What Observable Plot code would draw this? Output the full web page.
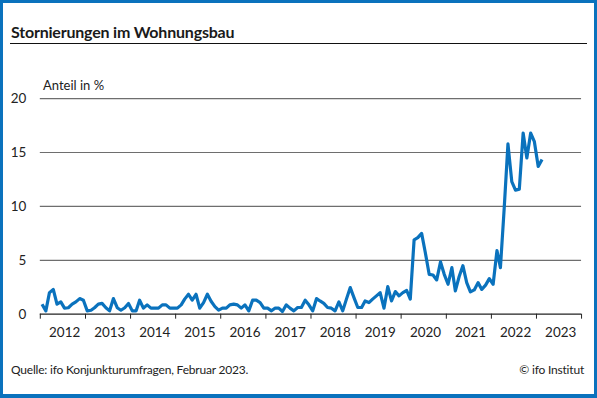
<!DOCTYPE html>
<html>
<head>
<meta charset="utf-8">
<script src="https://cdn.jsdelivr.net/npm/d3@7"></script>
<script src="https://cdn.jsdelivr.net/npm/@observablehq/plot@0.6"></script>
<style>
  html, body { margin:0; padding:0; background:#fff; }
  #frame { position:relative; width:597px; height:398px; box-sizing:border-box; border:3px solid #0a72bd; border-bottom-width:4px; overflow:hidden; font-family:Lato, sans-serif; color:#1a1a1a; }
  #title { position:absolute; left:8px; top:19px; font-size:16px; font-weight:bold; letter-spacing:-0.2px; }
  #rule { position:absolute; left:7px; top:40px; width:577px; height:0; border-top:1.6px solid #111; }
  #ylabel { position:absolute; left:40px; top:74px; font-size:13px; color:#222; }
  #source { position:absolute; left:8px; top:359px; font-size:12px; color:#222; letter-spacing:-0.2px; }
  #copy { position:absolute; right:10px; top:359px; font-size:12px; color:#222; letter-spacing:-0.2px; }
  #chart { position:absolute; left:-3px; top:57px; }
</style>
</head>
<body>
<div id="frame">
  <div id="title">Stornierungen im Wohnungsbau</div>
  <div id="rule"></div>
  <div id="ylabel">Anteil in %</div>
  <div id="chart"></div>
  <div id="source">Quelle: ifo Konjunkturumfragen, Februar 2023.</div>
  <div id="copy">© ifo Institut</div>
</div>
<script>
// Monthly share of cancellations (%), Jan 2012 – Feb 2023
const startYear = 2012;
const startMonth = 0;
const values = [
  0.93, 0.31, 2.0, 2.3, 0.93, 1.14, 0.56, 0.6, 0.93, 1.14, 1.45, 1.3,
  0.31, 0.37, 0.6, 0.93, 1.0, 0.6, 0.31, 1.45, 0.6, 0.37, 0.6, 1.0,
  0.31, 0.31, 1.3, 0.56, 0.87, 0.56, 0.56, 0.56, 0.87, 0.87, 0.56, 0.56,
  0.56, 0.87, 1.4, 1.85, 1.3, 1.85, 0.56, 1.08, 1.85, 1.2, 0.7, 0.37,
  0.56, 0.56, 0.87, 0.93, 0.87, 0.56, 0.87, 0.31, 1.3, 1.3, 1.08, 0.56,
  0.56, 0.31, 0.56, 0.56, 0.25, 0.87, 0.56, 0.31, 0.62, 0.62, 1.3, 0.87,
  0.31, 1.45, 1.23, 1.0, 0.62, 0.56, 0.31, 1.14, 0.31, 1.4, 2.47, 1.54,
  0.62, 0.62, 1.23, 1.08, 1.4, 1.7, 2.0, 0.56, 2.56, 1.23, 2.1, 1.7,
  2.0, 2.2, 1.4, 6.9, 7.1, 7.5, 5.7, 3.7, 3.64, 3.18, 4.85, 3.7,
  2.78, 4.32, 2.16, 3.5, 4.5, 2.93, 2.07, 2.25, 2.93, 2.3, 2.7, 3.3,
  2.78, 5.9, 4.32, 9.9, 15.8, 12.3, 11.5, 11.6, 16.8, 14.5, 16.8, 16.0,
  13.7, 14.35
];
const yearTicks = [2012, 2013, 2014, 2015, 2016, 2017, 2018, 2019, 2020, 2021, 2022, 2023];
const yTicks = [0, 5, 10, 15, 20];
const gridValues = [5, 10, 15, 20];

const data = values.map((v, i) => ({
  date: new Date(Date.UTC(startYear, startMonth + i, 15)),
  value: v
}));
const yearStarts = [...yearTicks, yearTicks[yearTicks.length - 1] + 1].map(y => new Date(Date.UTC(y, 0, 1)));
const yearMids = yearTicks.map(y => new Date(Date.UTC(y, 6, 16)));

const chart = Plot.plot({
  width: 597,
  height: 290,
  marginTop: 38.3,
  marginBottom: 35,
  marginLeft: 40,
  marginRight: 13,
  x: {type: "utc", domain: [new Date(Date.UTC(2012, 0, 1)), new Date(Date.UTC(2024, 0, 1))]},
  y: {domain: [0, 20]},
  style: {fontFamily: "Lato, sans-serif", fontSize: "13px", color: "#222", background: "transparent", overflow: "visible"},
  marks: [
    Plot.ruleY(gridValues, {stroke: "#6e6e6e", strokeWidth: 1.2}),
    Plot.axisY({ticks: yTicks, tickSize: 0, tickPadding: 14, label: null, fontSize: 13.5}),
    Plot.axisX({ticks: yearStarts, tickSize: 5, tickFormat: () => "", label: null, stroke: "#222"}),
    Plot.axisX({ticks: yearMids, tickSize: 0, tickPadding: 13.5, tickFormat: d => String(d.getUTCFullYear()), label: null, fontSize: 13.5}),
    Plot.ruleY([0], {stroke: "#222", strokeWidth: 1.2}),
    Plot.line(data, {x: "date", y: "value", stroke: "#0a72bd", strokeWidth: 3.2, strokeLinejoin: "round", strokeLinecap: "butt"})
  ]
});
document.getElementById("chart").appendChild(chart);
</script>
</body>
</html>
